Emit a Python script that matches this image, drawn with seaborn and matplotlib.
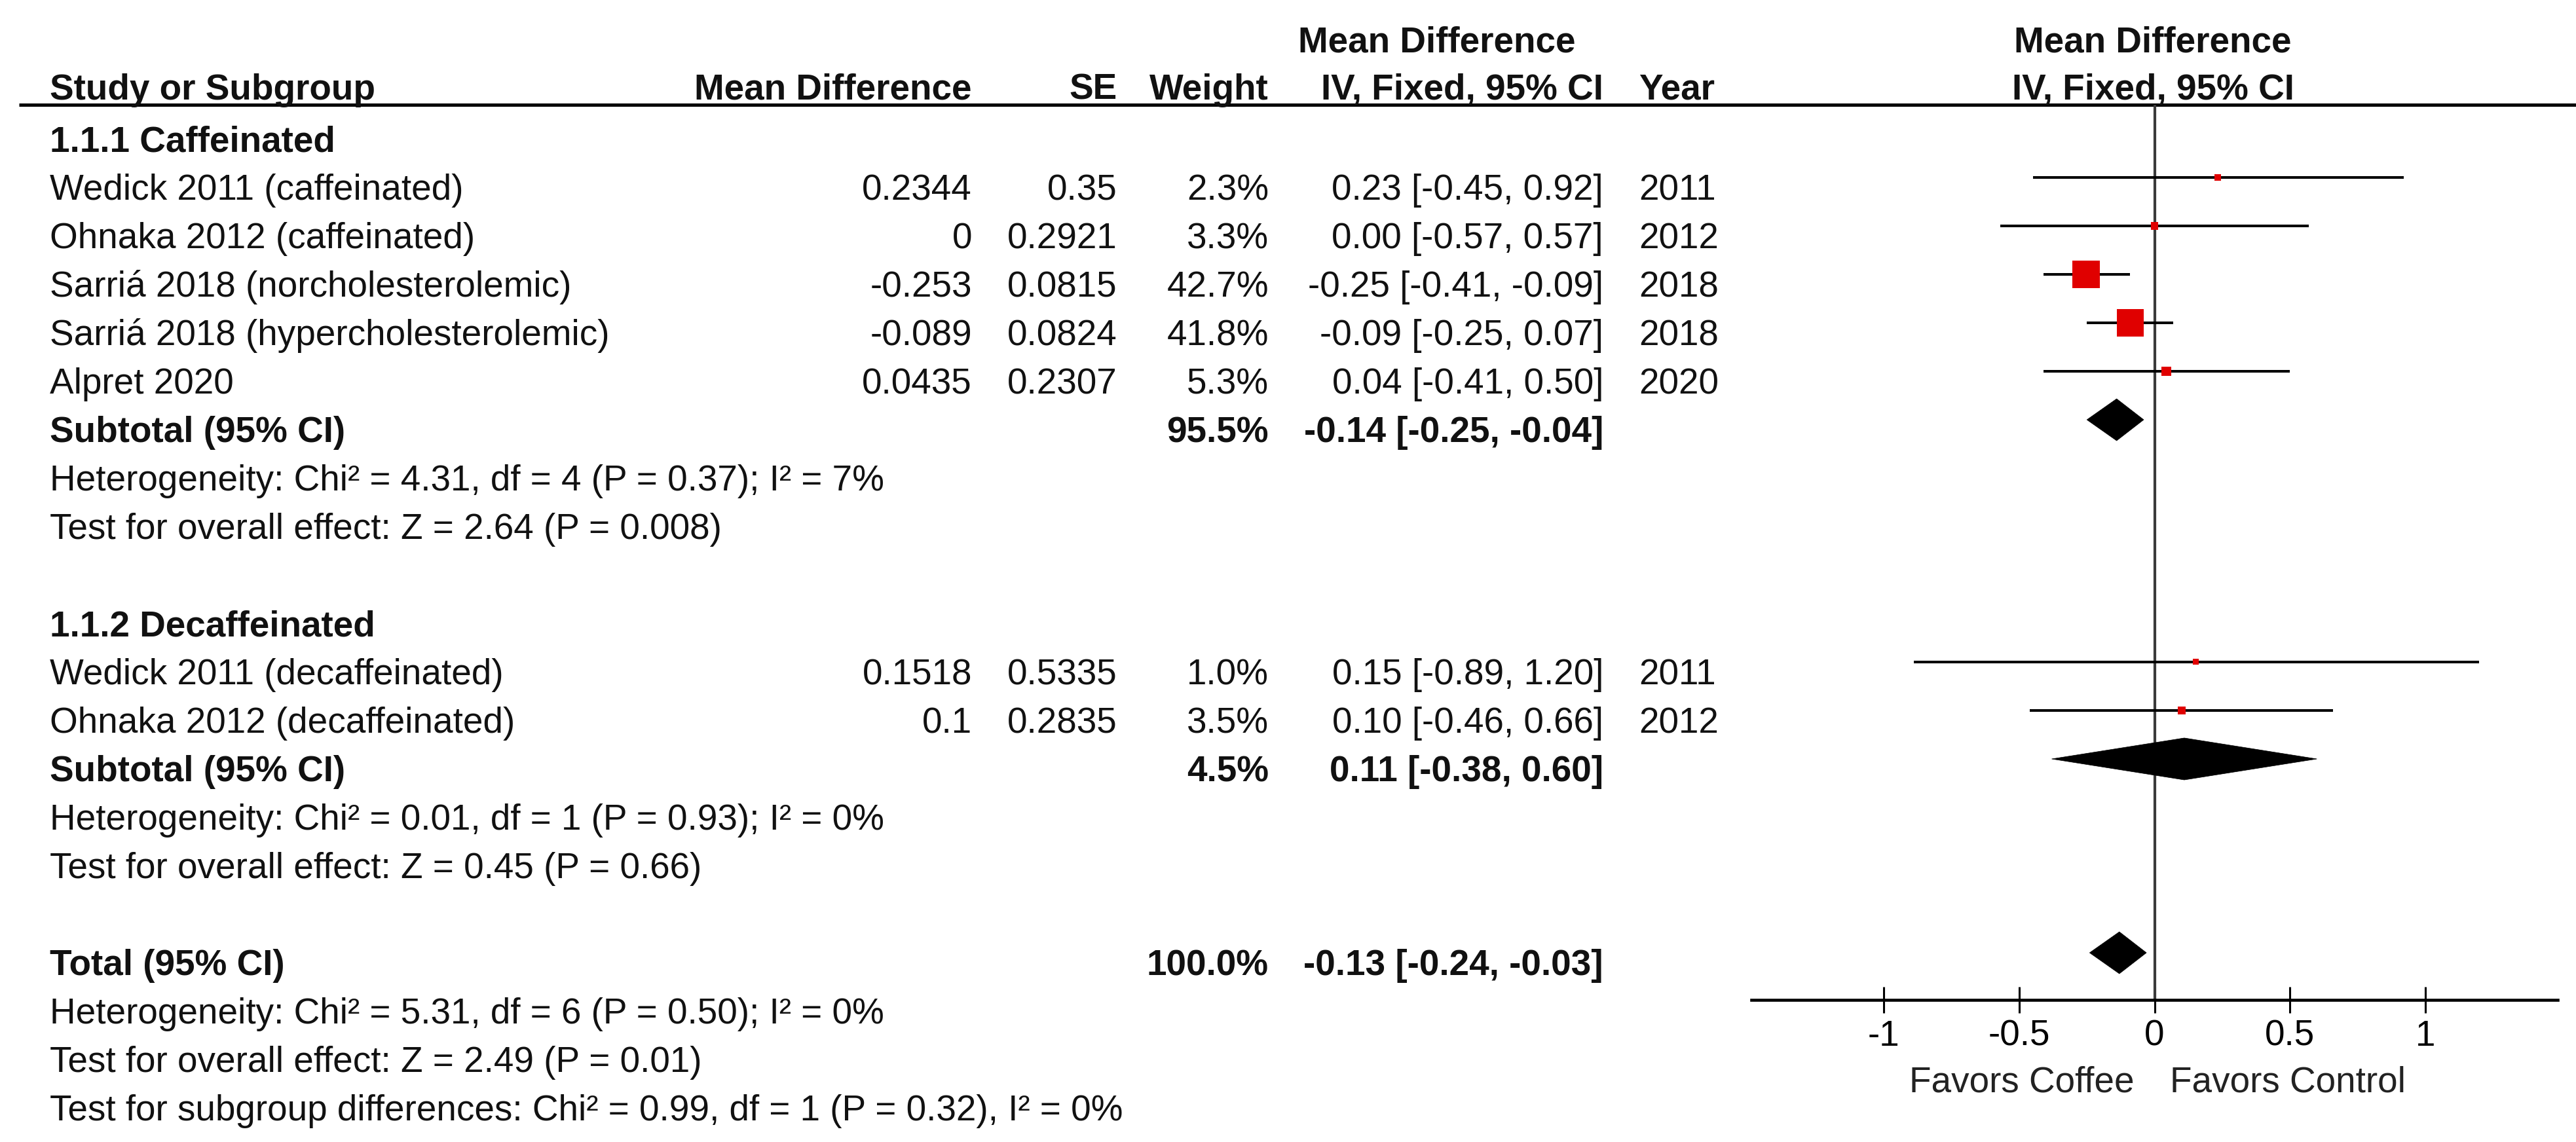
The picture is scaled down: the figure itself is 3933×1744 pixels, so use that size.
import numpy as np
import pandas as pd
import matplotlib
matplotlib.use("Agg")
import matplotlib.pyplot as plt
import seaborn as sns
from matplotlib.patches import Polygon

# ---------------- data ----------------
studies = ["Wedick 2011 (caffeinated)", "Ohnaka 2012 (caffeinated)",
           "Sarriá 2018 (norcholesterolemic)", "Sarriá 2018 (hypercholesterolemic)",
           "Alpret 2020", "Wedick 2011 (decaffeinated)", "Ohnaka 2012 (decaffeinated)"]
mean_diff = [0.2344, 0, -0.253, -0.089, 0.0435, 0.1518, 0.1]
se_values = [0.35, 0.2921, 0.0815, 0.0824, 0.2307, 0.5335, 0.2835]
weights = [2.3, 3.3, 42.7, 41.8, 5.3, 1.0, 3.5]
ci_low = [-0.45, -0.57, -0.41, -0.25, -0.41, -0.89, -0.46]
ci_high = [0.92, 0.57, -0.09, 0.07, 0.50, 1.20, 0.66]
years = [2011, 2012, 2018, 2018, 2020, 2011, 2012]
study_rows = [1, 2, 3, 4, 5, 11, 12]

summary_labels = ["Subtotal (95% CI)", "Subtotal (95% CI)", "Total (95% CI)"]
summary_est = [-0.14, 0.11, -0.13]
summary_low = [-0.25, -0.38, -0.24]
summary_high = [-0.04, 0.60, -0.03]
summary_weight = [95.5, 4.5, 100.0]
summary_rows = [6, 13, 17]

group_labels = ["1.1.1 Caffeinated", "1.1.2 Decaffeinated"]
group_rows = [0, 10]

stat_lines = ["Heterogeneity: Chi² = 4.31, df = 4 (P = 0.37); I² = 7%",
              "Test for overall effect: Z = 2.64 (P = 0.008)",
              "Heterogeneity: Chi² = 0.01, df = 1 (P = 0.93); I² = 0%",
              "Test for overall effect: Z = 0.45 (P = 0.66)",
              "Heterogeneity: Chi² = 5.31, df = 6 (P = 0.50); I² = 0%",
              "Test for overall effect: Z = 2.49 (P = 0.01)",
              "Test for subgroup differences: Chi² = 0.99, df = 1 (P = 0.32), I² = 0%"]
stat_rows = [7, 8, 14, 15, 18, 19, 20]

tick_values = [-1, -0.5, 0, 0.5, 1]
tick_labels = ["-1", "-0.5", "0", "0.5", "1"]
x_limits = (-1.49, 1.49)
favors_left = "Favors Coffee"
favors_right = "Favors Control"

# ---------------- style ----------------
sns.set_theme(style="white")
plt.rcParams["font.family"] = ["Liberation Sans", "DejaVu Sans"]

W, H = 3933, 1744
DPI = 100
FS = 39.5
TXT = "#111111"
fig = plt.figure(figsize=(W / DPI, H / DPI), dpi=DPI)
fig.patch.set_facecolor("white")

# text layer in pixel units
ax_t = fig.add_axes([0, 0, 1, 1])
ax_t.set_xlim(0, W)
ax_t.set_ylim(H, 0)
ax_t.axis("off")
ax_t.patch.set_visible(False)


def base(k):
    return 231 + 74 * k


X_NAME, X_MD, X_SE, X_W, X_CI, X_YEAR = 76, 1484, 1706, 1937, 2448, 2502
X_CENTER_L, X_CENTER_R = 2194, 3287
Y_HDR1, Y_HDR2 = 79, 152

def txt(x, y, s, ha="left", bold=False, color=TXT):
    ax_t.text(x, y, s, ha=ha, va="baseline", fontsize=FS,
              fontweight="bold" if bold else "normal", color=color)

# headers
txt(X_CENTER_L, Y_HDR1, "Mean Difference", ha="center", bold=True)
txt(X_CENTER_R, Y_HDR1, "Mean Difference", ha="center", bold=True)
txt(X_NAME, Y_HDR2, "Study or Subgroup", bold=True)
txt(X_MD, Y_HDR2, "Mean Difference", ha="right", bold=True)
txt(X_SE, Y_HDR2, "SE", ha="right", bold=True)
txt(X_W, Y_HDR2, "Weight", ha="right", bold=True)
txt(X_CI, Y_HDR2, "IV, Fixed, 95% CI", ha="right", bold=True)
txt(X_YEAR, Y_HDR2, "Year", bold=True)
txt(X_CENTER_R, Y_HDR2, "IV, Fixed, 95% CI", ha="center", bold=True)
ax_t.plot([29, W], [160.5, 160.5], color="black", lw=3.6, solid_capstyle="butt")

for lab, r in zip(group_labels, group_rows):
    txt(X_NAME, base(r), lab, bold=True)

for name, m, s, w, lo, hi, yr, r in zip(studies, mean_diff, se_values, weights,
                                        ci_low, ci_high, years, study_rows):
    y = base(r)
    txt(X_NAME, y, name)
    txt(X_MD, y, f"{m:g}", ha="right")
    txt(X_SE, y, f"{s:g}", ha="right")
    txt(X_W, y, f"{w:.1f}%", ha="right")
    txt(X_CI, y, f"{round(m, 2):.2f} [{lo:.2f}, {hi:.2f}]", ha="right")
    txt(X_YEAR, y, f"{yr}")

for lab, e, lo, hi, w, r in zip(summary_labels, summary_est, summary_low,
                                summary_high, summary_weight, summary_rows):
    y = base(r)
    txt(X_NAME, y, lab, bold=True)
    txt(X_W, y, f"{w:.1f}%", ha="right", bold=True)
    txt(X_CI, y, f"{e:.2f} [{lo:.2f}, {hi:.2f}]", ha="right", bold=True)

for s, r in zip(stat_lines, stat_rows):
    txt(X_NAME, base(r), s)

txt(3259, 1667, favors_left, ha="right", color="#222222")
txt(3313, 1667, favors_right, ha="left", color="#222222")

# ---------------- forest panel ----------------
L, R, T, B = 2674, 3905, 160, 1527
ax = fig.add_axes([L / W, 1 - B / H, (R - L) / W, (B - T) / H])
ax.patch.set_visible(False)
ax.set_xlim(*x_limits)
row_top = (T - 197) / 74.0
row_bot = (B - 197) / 74.0
ax.set_ylim(row_bot, row_top)

ax.axvline(0, color="#3a3a3a", lw=3.0, zorder=1)

df = pd.DataFrame({"md": mean_diff, "row": study_rows, "w": weights,
                   "lo": ci_low, "hi": ci_high})
ax.hlines(df["row"], df["lo"], df["hi"], color="black", lw=2.9, zorder=2)
side_px = np.maximum(9.0, 6.4 * np.sqrt(df["w"].to_numpy()))
sizes = (side_px * 72.0 / DPI) ** 2
sns.scatterplot(x=df["md"].to_numpy(), y=df["row"].to_numpy(), ax=ax, marker="s",
                s=sizes, color="#e00000", edgecolor="none", linewidth=0,
                zorder=3, legend=False)

half_h = 32 / 74.0
for e, lo, hi, r in zip(summary_est, summary_low, summary_high, summary_rows):
    poly = Polygon([[lo, r], [e, r - half_h], [hi, r], [e, r + half_h]],
                   closed=True, facecolor="black", edgecolor="black", lw=0.5,
                   zorder=3)
    ax.add_patch(poly)

for sp in ["top", "left", "right"]:
    ax.spines[sp].set_visible(False)
ax.spines["bottom"].set_visible(True)
ax.spines["bottom"].set_color("black")
ax.spines["bottom"].set_linewidth(3.3)
ax.set_yticks([])
ax.set_xticks(tick_values)
ax.set_xticklabels(tick_labels)
ax.tick_params(axis="x", direction="inout", length=29, width=2.2, color="black",
               labelsize=FS, labelcolor="black", pad=7, bottom=True)
ax.set_xlabel("")
ax.set_ylabel("")
ax.grid(False)

fig.savefig("out.png", dpi=DPI, facecolor="white")
